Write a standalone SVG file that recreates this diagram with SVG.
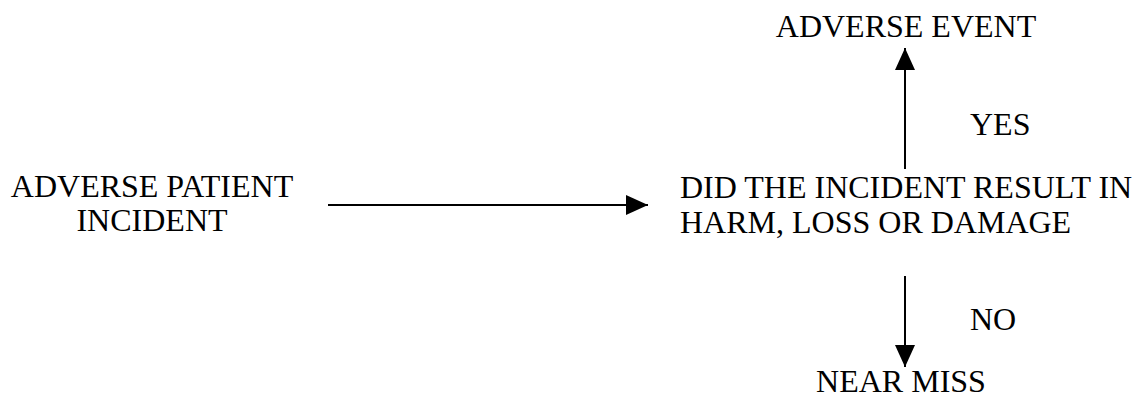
<svg xmlns="http://www.w3.org/2000/svg" width="1140" height="397" viewBox="0 0 1140 397">
<style>
text{font-family:"Liberation Serif","Times New Roman",serif;font-size:32px;fill:#000}
.c{stroke:#000;stroke-width:2;fill:none}
</style>
<defs>
<marker id="ah" viewBox="0 0 22 20" refX="22" refY="10" markerWidth="22" markerHeight="20" markerUnits="userSpaceOnUse" orient="auto">
<path d="M0,0 L22,10 L0,20 Z" fill="#000"/>
</marker>
</defs>
<rect width="1140" height="397" fill="#fff"/>
<g id="connectors">
<line class="c" x1="328" y1="205" x2="648" y2="205" marker-end="url(#ah)"/>
<line class="c" x1="905" y1="169" x2="905" y2="48" marker-end="url(#ah)"/>
<line class="c" x1="905" y1="276" x2="905" y2="367" marker-end="url(#ah)"/>
<text x="970" y="135">YES</text>
<text x="970" y="330">NO</text>
</g>
<g id="incident">
<text x="152" y="197" text-anchor="middle">ADVERSE PATIENT</text>
<text x="152" y="231" text-anchor="middle">INCIDENT</text>
</g>
<g id="decision">
<text x="680" y="198">DID THE INCIDENT RESULT IN</text>
<text x="680" y="233">HARM, LOSS OR DAMAGE</text>
</g>
<g id="adverse-event">
<text x="906" y="37" text-anchor="middle">ADVERSE EVENT</text>
</g>
<g id="near-miss">
<text x="901" y="392" text-anchor="middle">NEAR MISS</text>
</g>
</svg>
